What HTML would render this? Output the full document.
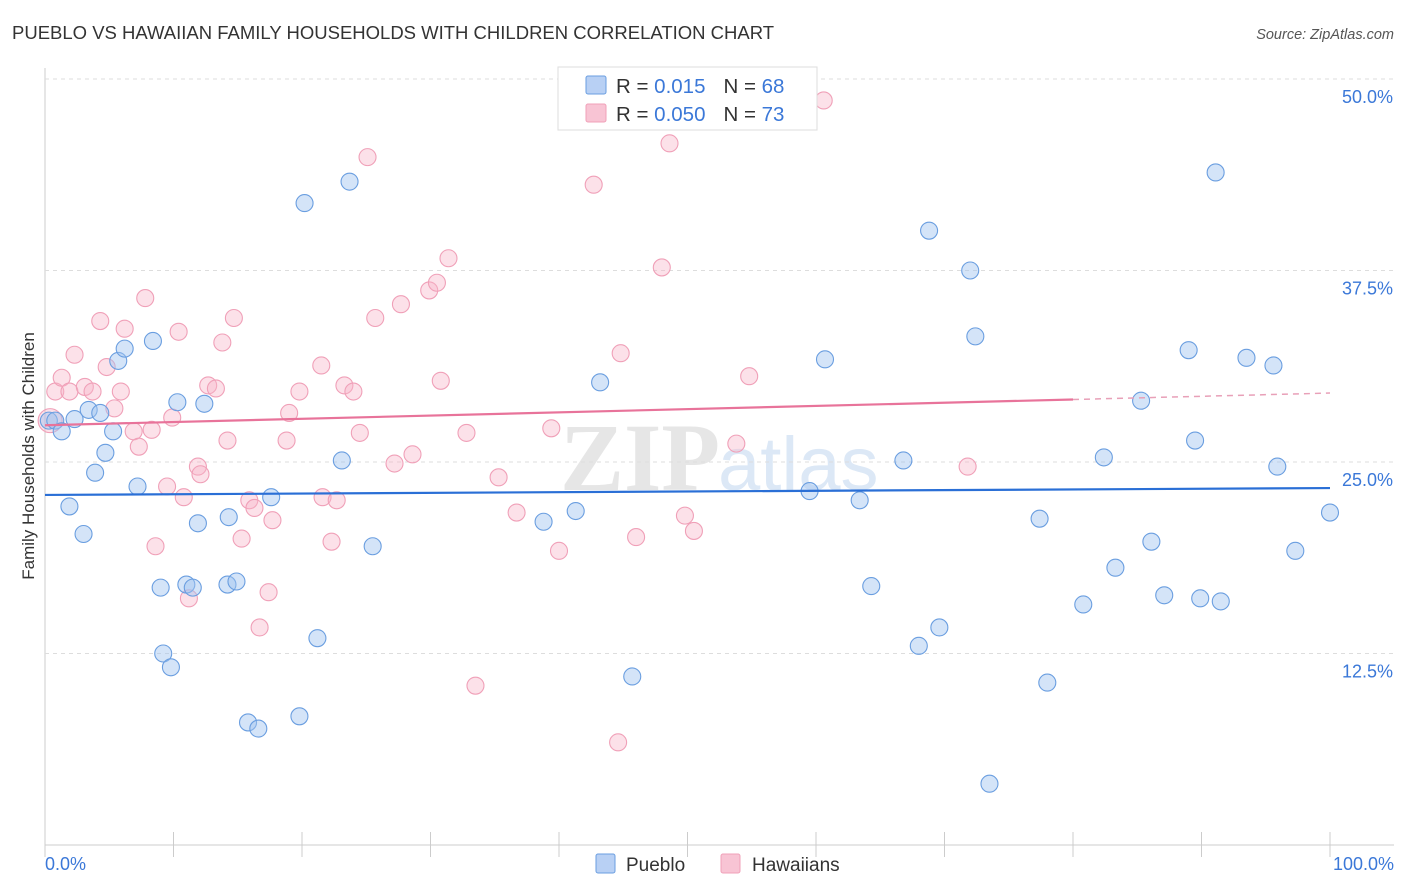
<!DOCTYPE html>
<html><head><meta charset="utf-8"><style>
body{margin:0;background:#fff;font-family:"Liberation Sans",sans-serif;}
svg{display:block}
</style></head><body>
<svg id="c" width="1406" height="892">
<text x="12" y="39" font-size="18.5" fill="#333">PUEBLO VS HAWAIIAN FAMILY HOUSEHOLDS WITH CHILDREN CORRELATION CHART</text>
<text x="1394" y="39" font-size="14.5" fill="#555" font-style="italic" text-anchor="end">Source: ZipAtlas.com</text>
<text x="720" y="490" font-size="96" fill="#e6e6e6" font-family="Liberation Serif" text-anchor="end" font-weight="bold">ZIP</text>
<text x="718" y="490" font-size="76" fill="#dce8f6">atlas</text>
<text transform="translate(34,456) rotate(-90)" font-size="17" fill="#333" text-anchor="middle">Family Households with Children</text>
<g id="grid"></g><g id="pts"></g><g id="trend"></g>
<g>
<rect x="558" y="67" width="259" height="63" fill="#fff" stroke="#ddd"/>
<rect x="586" y="76" width="20" height="18" fill="#b8d0f4" stroke="#6a9ee0" rx="2"/>
<rect x="586" y="104" width="20" height="18" fill="#f8c4d4" stroke="#f0a0b8" rx="2"/>
<text x="616" y="93" font-size="20.5" fill="#333">R = <tspan fill="#3b78d8">0.015</tspan><tspan dx="18">N = </tspan><tspan fill="#3b78d8">68</tspan></text>
<text x="616" y="121" font-size="20.5" fill="#333">R = <tspan fill="#3b78d8">0.050</tspan><tspan dx="18">N = </tspan><tspan fill="#3b78d8">73</tspan></text>
</g>
<g>
<rect x="596" y="854" width="19" height="19" fill="#b8d0f4" stroke="#6a9ee0" rx="2"/>
<text x="626" y="871" font-size="19" fill="#333">Pueblo</text>
<rect x="721" y="854" width="19" height="19" fill="#f8c4d4" stroke="#f0a0b8" rx="2"/>
<text x="752" y="871" font-size="19" fill="#333">Hawaiians</text>
</g>
<text x="45" y="870" font-size="18" fill="#3b78d8">0.0%</text>
<text x="1394" y="870" font-size="18" fill="#3b78d8" text-anchor="end">100.0%</text>
</svg>
<script>
const yTicks=[50,37.5,25,12.5];
const blueX=[0.3,0.8,1.3,2.3,3.4,4.3,5.3,4.7,3.9,1.9,3.0,7.2,5.7,6.2,8.4,10.3,12.4,11.9,14.3,9.0,11.0,11.5,14.2,14.9,9.2,9.8,15.8,16.6,19.8,17.6,20.2,23.7,23.1,25.5,21.2,38.8,41.3,43.2,45.7,59.5,60.7,63.4,64.3,66.8,68.0,69.6,68.8,72.0,72.4,73.5,77.4,78.0,80.8,82.4,83.3,85.3,86.1,87.1,89.0,89.5,89.9,91.5,91.1,93.5,95.6,95.9,97.3,100];
const blueY=[27.7,27.7,27.0,27.8,28.4,28.2,27.0,25.6,24.3,22.1,20.3,23.4,31.6,32.4,32.9,28.9,28.8,21.0,21.4,16.8,17.0,16.8,17.0,17.2,12.5,11.6,8.0,7.6,8.4,22.7,41.9,43.3,25.1,19.5,13.5,21.1,21.8,30.2,11.0,23.1,31.7,22.5,16.9,25.1,13.0,14.2,40.1,37.5,33.2,4.0,21.3,10.6,15.7,25.3,18.1,29.0,19.8,16.3,32.3,26.4,16.1,15.9,43.9,31.8,31.3,24.7,19.2,21.7];
const pinkX=[0.4,0.8,1.3,1.9,2.3,3.1,3.7,4.3,4.8,5.4,5.9,6.2,6.9,7.3,7.8,8.3,8.6,9.5,9.9,10.4,10.8,11.2,11.9,12.1,12.7,13.3,13.8,14.2,14.7,15.3,15.9,16.3,16.7,17.4,17.7,18.8,19.0,19.8,21.5,21.6,22.3,22.7,23.3,24.0,24.5,25.1,25.7,27.2,27.7,28.6,29.9,30.5,30.8,31.4,32.8,33.5,35.3,36.7,39.4,40.0,42.7,44.6,44.8,46.0,48.0,48.6,49.8,50.5,53.8,54.8,60.6,71.8];
const pinkY=[27.7,29.6,30.5,29.6,32.0,29.9,29.6,34.2,31.2,28.5,29.6,33.7,27.0,26.0,35.7,27.1,19.5,23.4,27.9,33.5,22.7,16.1,24.7,24.2,30.0,29.8,32.8,26.4,34.4,20.0,22.5,22.0,14.2,16.5,21.2,26.4,28.2,29.6,31.3,22.7,19.8,22.5,30.0,29.6,26.9,44.9,34.4,24.9,35.3,25.5,36.2,36.7,30.3,38.3,26.9,10.4,24.0,21.7,27.2,19.2,43.1,6.7,32.1,20.1,37.7,45.8,21.5,20.5,26.2,30.6,48.6,24.7];
const blueTrend=[22.85,23.3];
const pinkTrend=[27.4,29.5];
const X=v=>45+v*12.85, Y=v=>845-v*15.32;
const NS='http://www.w3.org/2000/svg';
function mk(t,a,p){const e=document.createElementNS(NS,t);for(const k in a)e.setAttribute(k,a[k]);p.appendChild(e);return e;}
const grid=document.getElementById('grid');
const ax=mk('line',{x1:45,y1:68,x2:45,y2:845,stroke:'#ccc'},grid);


const bx=mk('line',{x1:45,y1:845,x2:1394,y2:845,stroke:'#ccc'},grid);


yTicks.forEach(t=>{
 const g=mk('line',{x1:45,y1:Y(t),x2:1394,y2:Y(t),stroke:'#ddd','stroke-dasharray':'4,4'},grid);
 
 
 const l=mk('text',{x:1393,y:Y(t)+24,'font-size':18,fill:'#3b78d8','text-anchor':'end'},grid);
 l.textContent=t.toFixed(1)+'%';
 
 
});
for(let i=0;i<=10;i++){
 const t=mk('line',{x1:X(i*10),y1:832,x2:X(i*10),y2:857,stroke:'#ccc'},grid);
 
 
}
const pts=document.getElementById('pts');
pinkX.forEach((x,i)=>{
 const c=mk('circle',{cx:X(x),cy:Y(pinkY[i]),r:i==0?12:8.5,fill:'rgba(248,180,200,0.4)',stroke:'#f0a0b8','stroke-width':1.1},pts);
 
 
});
blueX.forEach((x,i)=>{
 const c=mk('circle',{cx:X(x),cy:Y(blueY[i]),r:8.5,fill:'rgba(160,195,240,0.45)',stroke:'#6a9ee0','stroke-width':1.1},pts);
 
 
});
const tr=document.getElementById('trend');
const bl=mk('line',{x1:X(0),y1:Y(blueTrend[0]),x2:X(100),y2:Y(blueTrend[1]),stroke:'#2a6fd6','stroke-width':2.2},tr);


const pm=pinkTrend[0]+(pinkTrend[1]-pinkTrend[0])*0.8;
const pl=mk('line',{x1:X(0),y1:Y(pinkTrend[0]),x2:X(80),y2:Y(pm),stroke:'#e8739a','stroke-width':2.2},tr);


const pd=mk('line',{x1:X(80),y1:Y(pm),x2:X(100),y2:Y(pinkTrend[1]),stroke:'#e8a0b8','stroke-width':1.5,'stroke-dasharray':'6,5'},tr);


</script>
</body></html>
